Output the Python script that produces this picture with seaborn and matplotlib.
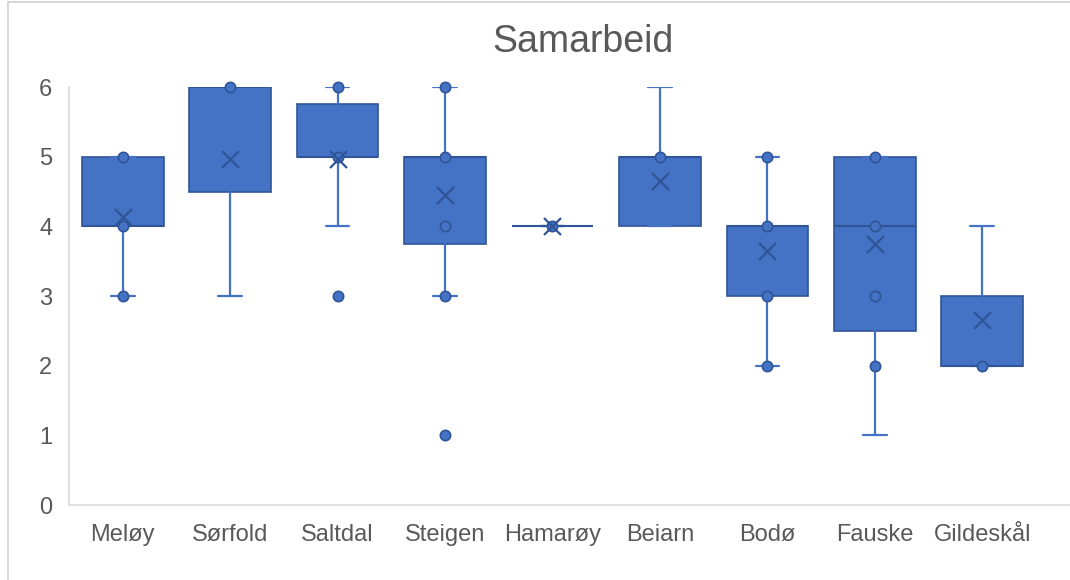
import matplotlib
matplotlib.use("Agg")
import matplotlib.pyplot as plt
import seaborn as sns
import pandas as pd
from matplotlib.patches import Rectangle

# ---- data ----
categories = ["Meløy", "Sørfold", "Saltdal", "Steigen", "Hamarøy", "Beiarn", "Bodø", "Fauske", "Gildeskål"]
q1      = [4.0, 4.5, 5.0, 3.75, 4.0, 4.0, 3.0, 2.5, 2.0]
medians = [4.0, 6.0, 5.0, 5.0, 4.0, 5.0, 4.0, 4.0, 2.0]
q3      = [5.0, 6.0, 5.75, 5.0, 4.0, 5.0, 4.0, 5.0, 3.0]
whislo  = [3.0, 3.0, 4.0, 3.0, 4.0, 4.0, 2.0, 1.0, 2.0]
whishi  = [5.0, 6.0, 6.0, 6.0, 4.0, 6.0, 5.0, 5.0, 4.0]
means   = [4.14, 4.97, 4.97, 4.45, 4.0, 4.65, 3.65, 3.75, 2.65]

inner_cat = ["Meløy", "Meløy", "Meløy", "Sørfold", "Saltdal", "Saltdal",
             "Steigen", "Steigen", "Steigen", "Steigen", "Hamarøy", "Beiarn",
             "Bodø", "Bodø", "Bodø", "Bodø", "Fauske", "Fauske", "Fauske", "Fauske", "Gildeskål"]
inner_val = [5, 4, 3, 6, 6, 5,
             6, 5, 4, 3, 4, 5,
             5, 4, 3, 2, 5, 4, 3, 2, 2]
outlier_cat = ["Saltdal", "Steigen"]
outlier_val = [3, 1]

title = "Samarbeid"
yticks = [0, 1, 2, 3, 4, 5, 6]

# ---- style ----
sns.set_theme(style="white")
plt.rcParams["font.family"] = ["Liberation Sans", "DejaVu Sans"]

BLUE = "#4472C4"
DARK = "#2F5597"
GRAY = "#595959"

fig = plt.figure(figsize=(10.7, 5.8), dpi=100)
ax = fig.add_axes([69 / 1070, 1 - 505 / 580, 1 - 69 / 1070, (505 - 87) / 580])

stats = []
for i, c in enumerate(categories):
    stats.append(dict(label=c, q1=q1[i], med=medians[i], q3=q3[i],
                      whislo=whislo[i], whishi=whishi[i], mean=means[i], fliers=[]))

pos = list(range(len(categories)))
ax.bxp(stats, positions=pos, widths=0.76, capwidths=0.22, patch_artist=True,
       showfliers=False, showmeans=False,
       boxprops=dict(facecolor=BLUE, edgecolor=DARK, linewidth=1.2),
       medianprops=dict(color=DARK, linewidth=1.5),
       whiskerprops=dict(color=BLUE, linewidth=1.6),
       capprops=dict(color=BLUE, linewidth=1.6))

idx = {c: i for i, c in enumerate(categories)}
inner_df = pd.DataFrame({"x": [idx[c] for c in inner_cat], "y": inner_val})
out_df = pd.DataFrame({"x": [idx[c] for c in outlier_cat], "y": outlier_val})
mean_df = pd.DataFrame({"x": pos, "y": means})

sns.scatterplot(data=inner_df, x="x", y="y", ax=ax, s=55, color=BLUE,
                edgecolor=DARK, linewidth=1.2, zorder=5, clip_on=False)
sns.scatterplot(data=out_df, x="x", y="y", ax=ax, s=55, color=BLUE,
                edgecolor=DARK, linewidth=1.2, zorder=5, clip_on=False)
sns.scatterplot(data=mean_df, x="x", y="y", ax=ax, s=150, marker="x",
                color=DARK, linewidth=1.6, zorder=6, clip_on=False)

ax.set_xlim(-0.5, 8.5 + (1070 - 1036) / 107.3)
ax.set_ylim(0, 6)
ax.set_yticks(yticks)
ax.set_xticks(pos)
ax.set_xticklabels(categories)
ax.set_xlabel("")
ax.set_ylabel("")
ax.tick_params(axis="both", length=0, labelsize=17, labelcolor=GRAY)
ax.tick_params(axis="y", pad=12)
ax.tick_params(axis="x", pad=14)
for s in ["top", "right"]:
    ax.spines[s].set_visible(False)
for s in ["left", "bottom"]:
    ax.spines[s].set_color("#D9D9D9")
    ax.spines[s].set_linewidth(1.2)
ax.grid(False)

fig.text(583 / 1070, 1 - 42 / 580, title, ha="center", va="center",
         fontsize=27, color=GRAY)

# chart-area border
fig.patches.append(Rectangle((8 / 1070, -0.01), 1.1, 1 - 2 / 580 + 0.01,
                             transform=fig.transFigure, fill=False,
                             edgecolor="#D0D0D0", linewidth=1.2))

fig.savefig("out.png", dpi=100)
